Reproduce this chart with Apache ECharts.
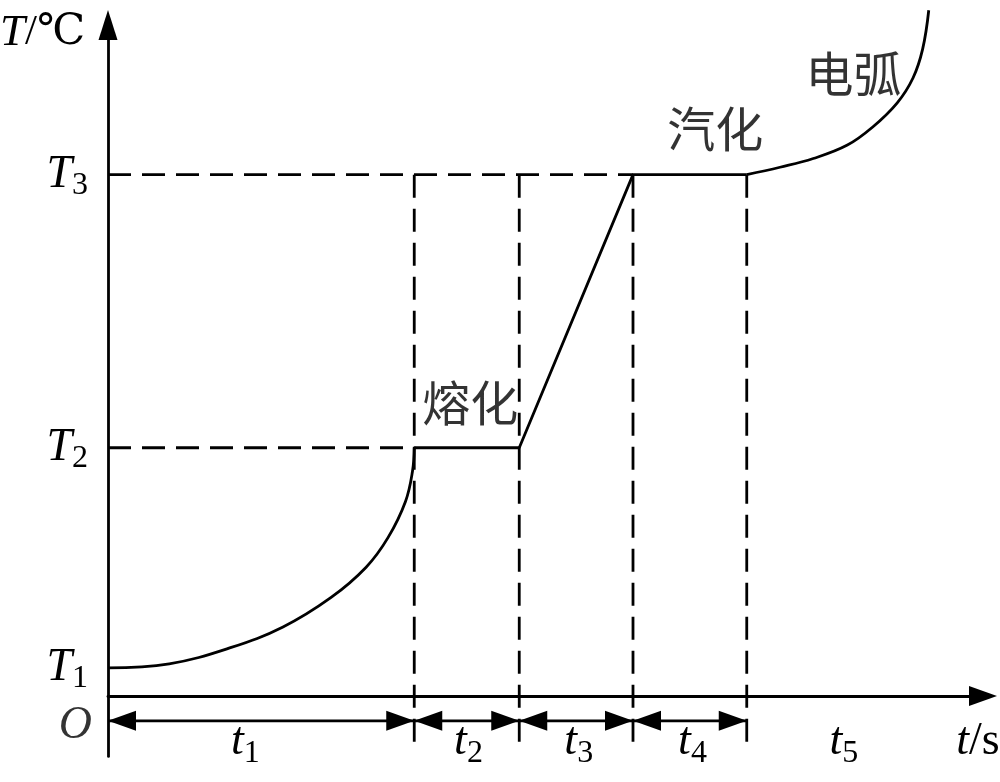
<!DOCTYPE html>
<html><head><meta charset="utf-8">
<script src="https://cdn.jsdelivr.net/npm/echarts@6/dist/echarts.min.js"></script>
<style>html,body{margin:0;padding:0;background:#fff}#c{width:1000px;height:782px}</style>
</head><body><div id="c"></div>
<script>
// ---- data ----
const tempLevels = [4.2, 37, 77.7];           // T1, T2, T3
const tempSubs = ['1', '2', '3'];
const timeBounds = [0, 35, 47, 60, 73];       // boundaries of t1..t4
const timeLabelPos = [15.7, 41.2, 53.8, 66.8, 84.1];
const timeSubs = ['1', '2', '3', '4', '5'];
const heatingCurve = [[0,4.2],[7,4.8],[14,7.2],[20,10.3],[25.5,14.7],[29.5,19.2],[32,23.6],[34,29],[34.8,33.5],[35,37]];
const phaseLine = [[35,37],[47,37],[60,77.7],[73,77.7]];
const arcCurve = [[73,77.7],[76.8,78.8],[80.6,80.1],[84.5,82.1],[87.4,84.8],[90.2,88.4],[92,92.1],[93.1,96.4],[93.8,102.2]];
const phaseNames = ['熔化', '汽化', '电弧'];
const phaseNamePos = [[41.4,43.7],[69.4,84.6],[85.2,92.8]];
const originPos = [0, -4.47];
const dimLevel = -3.7;
const guideBottom = -7.5;

// ---- chart ----
const serif = 'Liberation Serif, Times New Roman, serif';
const LW = 2.8;
const rich = {
  i: {fontFamily: serif, fontStyle: 'italic', fontSize: 46, lineHeight: 50, color: '#000'},
  n: {fontFamily: 'Liberation Serif, DejaVu Serif, serif', fontSize: 46, lineHeight: 50, color: '#000'},
  s: {fontFamily: serif, fontSize: 32, lineHeight: 28, padding: [22, 0, 0, 0], color: '#000'}
};
const nameRich = {
  i: {fontFamily: serif, fontStyle: 'italic', fontSize: 45, lineHeight: 50, color: '#000'},
  n: {fontFamily: 'Liberation Serif, DejaVu Serif, serif', fontSize: 43, lineHeight: 50, color: '#000'}
};
const dash = {color: '#000', width: LW, type: [23, 11]};
const series = [];
const T2 = tempLevels[1], T3 = tempLevels[2];
// dashed guides
series.push({type: 'line', data: [[0, T2], [timeBounds[1], T2]], symbol: 'none', lineStyle: dash, silent: true, z: 1});
series.push({type: 'line', data: [[0, T3], [timeBounds[3], T3]], symbol: 'none', lineStyle: dash, silent: true, z: 1});
timeBounds.slice(1).forEach(b => {
  series.push({type: 'line', data: [[b, T3], [b, guideBottom]], symbol: 'none', lineStyle: dash, silent: true, clip: false, z: 1});
});
// main curve
const solid = {color: '#000', width: LW};
series.push({type: 'line', data: heatingCurve, smooth: 0.4, symbol: 'none', lineStyle: solid, clip: false, z: 3});
series.push({type: 'line', data: phaseLine, symbol: 'none', lineStyle: solid, clip: false, z: 3});
series.push({type: 'line', data: arcCurve, smooth: 0.4, symbol: 'none', lineStyle: solid, clip: false, z: 3});
// dimension arrows
const segs = [];
for (let k = 0; k < timeBounds.length - 1; k++) segs.push([timeBounds[k], timeBounds[k + 1], dimLevel]);
series.push({
  type: 'custom', data: segs, encode: {x: [0, 1], y: 2}, clip: false, silent: true, z: 4,
  renderItem: (params, api) => {
    const a = api.coord([api.value(0), api.value(2)]);
    const b = api.coord([api.value(1), api.value(2)]);
    const L = 28, H = 10;
    return {type: 'group', children: [
      {type: 'line', shape: {x1: a[0], y1: a[1], x2: b[0], y2: b[1]}, style: {stroke: '#000', lineWidth: LW}},
      {type: 'polygon', shape: {points: [[a[0], a[1]], [a[0] + L, a[1] - H], [a[0] + L, a[1] + H]]}, style: {fill: '#000'}},
      {type: 'polygon', shape: {points: [[b[0], b[1]], [b[0] - L, b[1] - H], [b[0] - L, b[1] + H]]}, style: {fill: '#000'}}
    ]};
  }
});
// phase names
series.push({
  type: 'scatter', symbolSize: 0, silent: true, clip: false, z: 5,
  data: phaseNames.map((n, k) => ({name: n, value: phaseNamePos[k]})),
  label: {show: true, position: 'inside', formatter: '{b}', fontFamily: 'Noto Sans CJK SC', fontSize: 48, color: '#000'}
});
// origin label
series.push({
  type: 'scatter', symbolSize: 0, silent: true, clip: false, z: 5,
  data: [{name: 'O', value: originPos}],
  label: {show: true, position: 'left', distance: 16, formatter: '{i|O}', rich: rich}
});

const chart = echarts.init(document.getElementById('c'));
chart.setOption({
  animation: false,
  backgroundColor: '#fff',
  grid: {left: 108, right: 17, top: 25, bottom: 25.6, containLabel: false, outerBoundsMode: 'none'},
  xAxis: {
    type: 'value', min: 0, max: 100,
    axisLine: {onZero: true, symbol: ['none', 'triangle'], symbolSize: [20, 28], lineStyle: {color: '#000', width: LW}},
    axisTick: {show: false}, splitLine: {show: false},
    axisLabel: {
      customValues: timeLabelPos, margin: -39,
      formatter: v => { const k = timeLabelPos.indexOf(v); return k < 0 ? '' : '{i|t}{s|' + timeSubs[k] + '}'; },
      rich: rich
    },
    name: '{i|t}{n|/s}', nameLocation: 'end', nameGap: -5,
    nameTextStyle: {align: 'center', verticalAlign: 'top', padding: [21, 0, 0, 0], rich: rich}
  },
  yAxis: {
    type: 'value', min: -9, max: 100,
    axisLine: {onZero: true, symbol: ['none', 'triangle'], symbolSize: [19, 30], lineStyle: {color: '#000', width: LW}},
    axisTick: {show: false}, splitLine: {show: false},
    axisLabel: {
      customValues: tempLevels, margin: 20,
      formatter: v => { const k = tempLevels.indexOf(v); return k < 0 ? '' : '{i|T}{s|' + tempSubs[k] + '}'; },
      rich: rich
    },
    name: '{i|T}{n|/℃}', nameLocation: 'end', nameGap: -8,
    nameTextStyle: {align: 'right', verticalAlign: 'middle', padding: [0, 23, 0, 0], rich: nameRich}
  },
  series: series
});
</script>
</body></html>
